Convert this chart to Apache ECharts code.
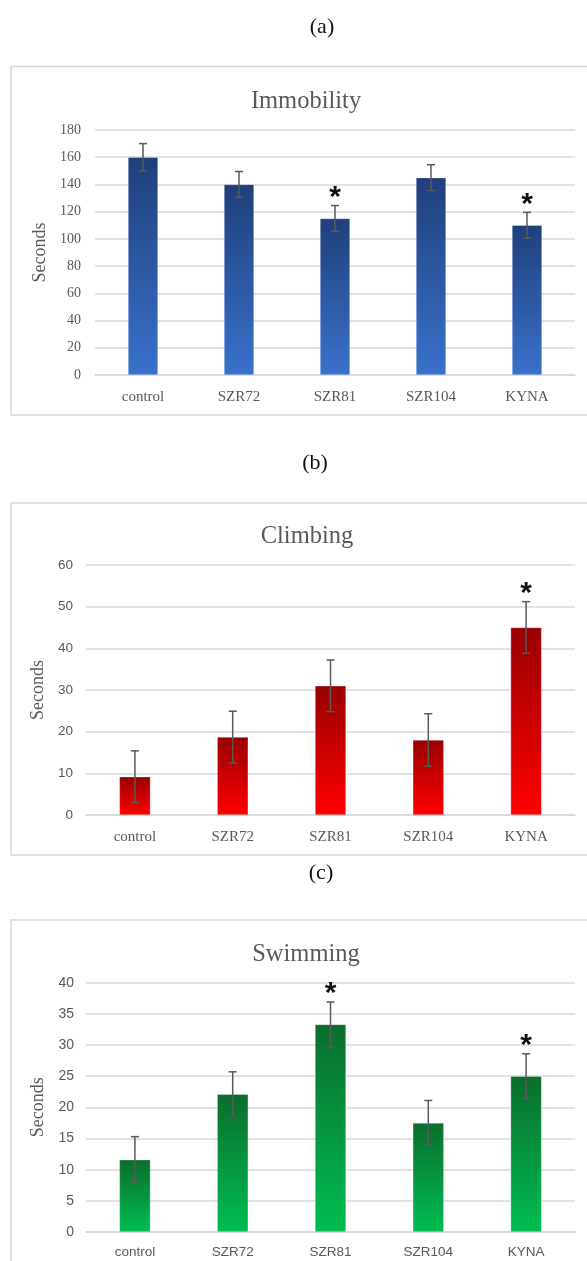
<!DOCTYPE html>
<html>
<head>
<meta charset="utf-8">
<script src="https://cdn.jsdelivr.net/npm/echarts@6/dist/echarts.min.js"></script>
<style>
  html, body { margin: 0; padding: 0; background: #fff; }
  #main { width: 587px; height: 1261px; }
</style>
</head>
<body>
<div id="main"></div>
<script>
// groups on the x axis
const categories = ['control', 'SZR72', 'SZR81', 'SZR104', 'KYNA'];

// (a) Immobility
const immobilityMean = [160, 140, 115, 145, 110];
const immobilityErr = [10, 9.5, 9.5, 9.5, 9.5];
const immobilitySig = [0, 0, 1, 0, 1];

// (b) Climbing
const climbingMean = [9.2, 18.7, 31, 18, 45];
const climbingErr = [6.2, 6.2, 6.2, 6.3, 6.2];
const climbingSig = [0, 0, 0, 0, 1];

// (c) Swimming
const swimmingMean = [11.6, 22.1, 33.3, 17.5, 25];
const swimmingErr = [3.7, 3.6, 3.6, 3.6, 3.6];
const swimmingSig = [0, 0, 1, 0, 1];

const myChart = echarts.init(document.getElementById('main'));

const SERIF = '"Liberation Serif", "DejaVu Serif", serif';
const SANS = '"Liberation Sans", Lato, sans-serif';
const GREY = '#595959';
const LINE = '#d9d9d9';

const panels = [
  {
    tag: '(a)', title: 'Immobility', means: immobilityMean, errs: immobilityErr, sig: immobilitySig,
    max: 180, interval: 20, top: 130, height: 245, left: 95, nameGap: 43, labelMargin: 14, catMargin: 15,
    tickFont: SERIF, tickSize: 14, catFont: SERIF, catSize: 15, barWidth: 30,
    colors: ['#1f3f7a', '#3a71cc'],
    tagPos: [322, 27], titlePos: [301, 84.5], box: [11, 66.5, 600, 348.5]
  },
  {
    tag: '(b)', title: 'Climbing', means: climbingMean, errs: climbingErr, sig: climbingSig,
    max: 60, interval: 10, top: 565, height: 250, left: 86, nameGap: 35, labelMargin: 13, catMargin: 15,
    tickFont: SANS, tickSize: 13.5, catFont: SERIF, catSize: 15, barWidth: 31,
    colors: ['#990000', '#ff0000'],
    tagPos: [315, 463], titlePos: [302, 519.5], box: [11, 503, 600, 352]
  },
  {
    tag: '(c)', title: 'Swimming', means: swimmingMean, errs: swimmingErr, sig: swimmingSig,
    max: 40, interval: 5, top: 982.7, height: 249.3, left: 86, nameGap: 35, labelMargin: 12, catMargin: 13,
    tickFont: SANS, tickSize: 14, catFont: SANS, catSize: 13.5, barWidth: 31,
    colors: ['#0a6d2d', '#00bd52'],
    tagPos: [321, 873], titlePos: [301, 937.5], box: [11, 920, 600, 400]
  }
];

const grid = [], xAxis = [], yAxis = [], title = [], series = [], graphic = [];

panels.forEach((p, i) => {
  graphic.push({
    type: 'rect', silent: true, z: -1,
    shape: { x: p.box[0], y: p.box[1], width: p.box[2], height: p.box[3] },
    style: { fill: '#fff', stroke: LINE, lineWidth: 1.5 }
  });
  graphic.push({
    type: 'text', x: p.tagPos[0], y: p.tagPos[1],
    style: { text: p.tag, font: '22px ' + SERIF, fill: '#111', align: 'center', verticalAlign: 'middle' }
  });

  title.push({
    text: p.title, left: p.titlePos[0], top: p.titlePos[1], textAlign: 'center',
    textStyle: { fontFamily: SERIF, fontSize: 24.5, fontWeight: 'normal', color: GREY }
  });

  grid.push({ left: p.left, right: 12, top: p.top, height: p.height });

  xAxis.push({
    type: 'category', gridIndex: i, data: categories,
    axisLine: { lineStyle: { color: LINE, width: 1.5 } },
    axisTick: { show: false },
    axisLabel: { color: GREY, fontFamily: p.catFont, fontSize: p.catSize, margin: p.catMargin }
  });

  yAxis.push({
    type: 'value', gridIndex: i, min: 0, max: p.max, interval: p.interval,
    name: 'Seconds', nameLocation: 'middle', nameGap: p.nameGap, nameRotate: 90,
    nameTextStyle: { fontFamily: SERIF, fontSize: 18, color: GREY },
    axisLine: { show: false }, axisTick: { show: false },
    axisLabel: { color: GREY, fontFamily: p.tickFont, fontSize: p.tickSize, margin: p.labelMargin },
    splitLine: { lineStyle: { color: LINE, width: 1.5 } }
  });

  series.push({
    type: 'bar', xAxisIndex: i, yAxisIndex: i, barWidth: p.barWidth,
    itemStyle: {
      color: new echarts.graphic.LinearGradient(0, 0, 0, 1, [
        { offset: 0, color: p.colors[0] },
        { offset: 1, color: p.colors[1] }
      ]),
      borderColor: 'rgba(255,255,255,0.6)', borderWidth: 0.5
    },
    data: p.means
  });

  // error bars
  series.push({
    type: 'custom', xAxisIndex: i, yAxisIndex: i, z: 5,
    encode: { x: 0, y: [1, 2] },
    data: p.means.map((m, k) => [k, m - p.errs[k], m + p.errs[k]]),
    renderItem: (params, api) => {
      const lo = api.coord([api.value(0), api.value(1)]);
      const hi = api.coord([api.value(0), api.value(2)]);
      const w = 4;
      const st = { stroke: '#5a5a5a', lineWidth: 1.5 };
      return {
        type: 'group',
        children: [
          { type: 'line', shape: { x1: lo[0], y1: lo[1], x2: hi[0], y2: hi[1] }, style: st },
          { type: 'line', shape: { x1: hi[0] - w, y1: hi[1], x2: hi[0] + w, y2: hi[1] }, style: st },
          { type: 'line', shape: { x1: lo[0] - w, y1: lo[1], x2: lo[0] + w, y2: lo[1] }, style: st }
        ]
      };
    }
  });

  // significance asterisks
  series.push({
    type: 'custom', xAxisIndex: i, yAxisIndex: i, z: 6,
    encode: { x: 0, y: 1 },
    data: p.means.map((m, k) => [k, m + p.errs[k]]).filter((d, k) => p.sig[k]),
    renderItem: (params, api) => {
      const pt = api.coord([api.value(0), api.value(1)]);
      return {
        type: 'text', x: pt[0], y: pt[1] + 7,
        style: { text: '*', font: 'bold 30px ' + SANS, fill: '#111', align: 'center', verticalAlign: 'bottom' }
      };
    }
  });
});

const option = {
  animation: false,
  backgroundColor: '#fff',
  title, grid, xAxis, yAxis, series, graphic
};

myChart.setOption(option);
</script>
</body>
</html>
